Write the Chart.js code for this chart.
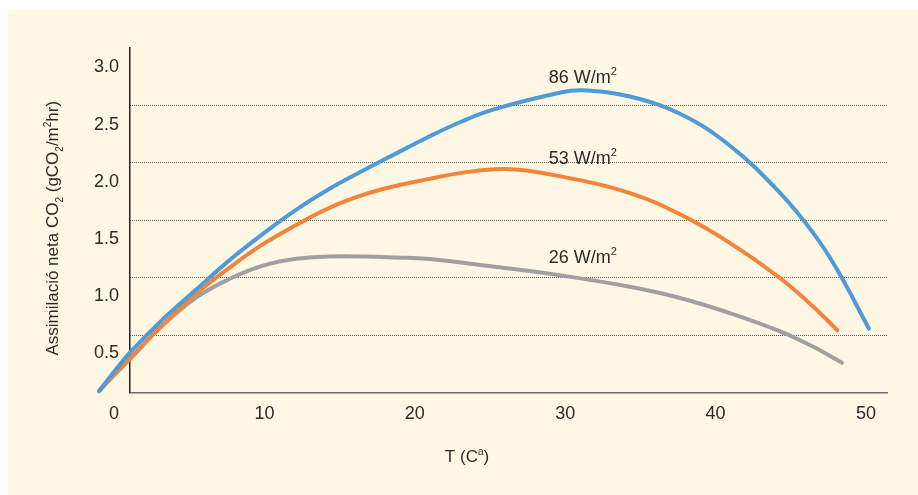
<!DOCTYPE html>
<html>
<head>
<meta charset="utf-8">
<script src="https://cdn.jsdelivr.net/npm/chart.js@4.4.1/dist/chart.umd.min.js"></script>
<style>
  body { margin: 0; background: #ffffff; }
  #marco { position: absolute; left: 8px; top: 10px; width: 910px; height: 485px; background: #fef7e3; }
</style>
</head>
<body>
<div id="marco"><canvas id="graficoAssimilacio"></canvas></div>
<script>
// corba 86 W/m2
const temp86 = [-1.0, 0, 1.1, 3.2, 5.5, 7.7, 9.9, 12.1, 14.3, 16.6, 18.8, 20.8, 23.0, 25.2, 29.7, 31.2, 34.3, 37.7, 41.0, 44.3, 46.5, 48.1, 50.2];
const assim86 = [0.167, 0.336, 0.511, 0.79, 1.06, 1.316, 1.544, 1.754, 1.936, 2.10, 2.25, 2.385, 2.52, 2.63, 2.78, 2.80, 2.745, 2.59, 2.31, 1.90, 1.55, 1.228, 0.713];

// corba 53 W/m2
const temp53 = [-1.0, 0, 1.1, 3.2, 5.5, 7.7, 9.9, 12.1, 14.3, 16.6, 18.8, 20.8, 23.0, 26.0, 29.7, 34.3, 37.7, 41.0, 44.3, 46.5, 48.1];
const assim53 = [0.167, 0.307, 0.46, 0.74, 1.024, 1.25, 1.453, 1.62, 1.77, 1.886, 1.965, 2.02, 2.075, 2.11, 2.046, 1.90, 1.71, 1.46, 1.155, 0.906, 0.70];

// corba 26 W/m2
const temp26 = [-1.0, 0, 1.1, 3.2, 5.5, 7.7, 9.9, 12.1, 14.3, 16.6, 18.8, 20.8, 25.2, 29.7, 34.3, 37.7, 41.0, 44.3, 46.5, 48.4];
const assim26 = [0.167, 0.307, 0.453, 0.74, 0.99, 1.15, 1.265, 1.325, 1.345, 1.345, 1.336, 1.325, 1.257, 1.18, 1.08, 0.98, 0.848, 0.69, 0.555, 0.415];

const ticksX = [0, 10, 20, 30, 40, 50];
const ticksY = [0.5, 1.0, 1.5, 2.0, 2.5, 3.0];
const nomsCorbes = ['86 W/m', '53 W/m', '26 W/m'];

const FONT = '"Liberation Sans", Arial, sans-serif';

function punts(xs, ys) {
  return xs.map(function (t, i) { return { x: t, y: ys[i] }; });
}

// text amb subindexs i superindexs
function textRic(ctx, parts, x, y, mida, centrat) {
  const fontDe = function (tipus) {
    return (tipus === 'n' ? mida : Math.round(mida * 0.6)) + 'px ' + FONT;
  };
  let ample = 0;
  parts.forEach(function (p) { ctx.font = fontDe(p[1]); ample += ctx.measureText(p[0]).width; });
  let cx = centrat ? x - ample / 2 : x;
  parts.forEach(function (p) {
    ctx.font = fontDe(p[1]);
    const dy = p[1] === 'sub' ? mida * 0.28 : (p[1] === 'sup' ? -mida * 0.4 : 0);
    ctx.fillText(p[0], cx, y + dy);
    cx += ctx.measureText(p[0]).width;
  });
}

const textos = {
  id: 'textos',
  afterDatasetsDraw: function (chart) {
    const ctx = chart.ctx;
    const area = chart.chartArea;
    const sx = chart.scales.x;
    const sy = chart.scales.y;
    ctx.save();
    ctx.fillStyle = '#2b2b2b';
    ctx.textBaseline = 'alphabetic';
    ctx.textAlign = 'left';

    // etiquetes de les corbes
    const posV = [2.92, 2.21, 1.345];
    nomsCorbes.forEach(function (nom, i) {
      textRic(ctx, [[nom, 'n'], ['2', 'sup']], sx.getPixelForValue(28.9), sy.getPixelForValue(posV[i]) + 6, 18, false);
    });

    // titol eix x
    textRic(ctx, [['T (C', 'n'], ['a', 'sup'], [')', 'n']], area.left + 337, area.bottom + 69, 17, true);

    // titol eix y
    ctx.translate(area.left - 72, (area.top + area.bottom) / 2 + 8);
    ctx.rotate(-Math.PI / 2);
    textRic(ctx, [['Assimilació neta CO', 'n'], ['2', 'sub'], [' (gCO', 'n'], ['2', 'sub'], ['/m', 'n'], ['2', 'sup'], ['hr)', 'n']], 0, 0, 17, true);
    ctx.restore();
  }
};

const ctx = document.getElementById('graficoAssimilacio');
new Chart(ctx, {
  type: 'line',
  data: {
    datasets: [
      { label: nomsCorbes[0], data: punts(temp86, assim86), borderColor: '#4f9bd7' },
      { label: nomsCorbes[1], data: punts(temp53, assim53), borderColor: '#f4843a' },
      { label: nomsCorbes[2], data: punts(temp26, assim26), borderColor: '#a0a0a0' }
    ]
  },
  options: {
    responsive: true,
    maintainAspectRatio: false,
    animation: false,
    layout: { padding: { top: 38, right: 31, left: 0, bottom: 0 } },
    datasets: {
      line: {
        borderWidth: 4,
        borderCapStyle: 'round',
        pointRadius: 0,
        tension: 0.4,
        clip: false
      }
    },
    plugins: {
      legend: { display: false },
      tooltip: { enabled: false }
    },
    scales: {
      x: {
        type: 'linear',
        bounds: 'data',
        // limits posats aqui perque la corba pugui sortir per l'esquerra
        afterDataLimits: function (s) { s.min = 1.06; s.max = 51.4; },
        afterBuildTicks: function (s) {
          s.ticks = ticksX.map(function (v) { return { value: v }; });
          s.min = 1.06; s.max = 51.4;
        },
        afterFit: function (s) { s.height = 102.5; },
        grid: { display: false, drawTicks: false },
        border: { color: '#6a6a6a', width: 1.5 },
        ticks: {
          autoSkip: false, maxRotation: 0, padding: 11, color: '#2b2b2b',
          font: { family: FONT, size: 18 },
          callback: function (v) { return v; }
        }
      },
      y: {
        type: 'linear',
        position: 'left',
        bounds: 'data',
        afterDataLimits: function (s) { s.min = 0.155; s.max = 3.17; },
        afterBuildTicks: function (s) {
          s.ticks = ticksY.map(function (v) { return { value: v }; });
          s.min = 0.155; s.max = 3.17;
        },
        afterFit: function (s) { s.width = 122; },
        grid: { display: false, drawTicks: false },
        border: { color: '#222222', width: 1.5 },
        ticks: {
          padding: 11, color: '#2b2b2b',
          font: { family: FONT, size: 18 },
          callback: function (v) { return v.toFixed(1); }
        }
      },
      reixa: {
        type: 'linear',
        position: 'left',
        min: 0,
        max: 6,
        afterBuildTicks: function (s) { s.ticks = [1, 2, 3, 4, 5].map(function (v) { return { value: v }; }); },
        afterFit: function (s) { s.width = 0; },
        ticks: { display: false },
        grid: { drawTicks: false, color: '#5e5e5e', lineWidth: 1 },
        border: { display: false, dash: [1, 1] }
      }
    }
  },
  plugins: [textos]
});
</script>
</body>
</html>
